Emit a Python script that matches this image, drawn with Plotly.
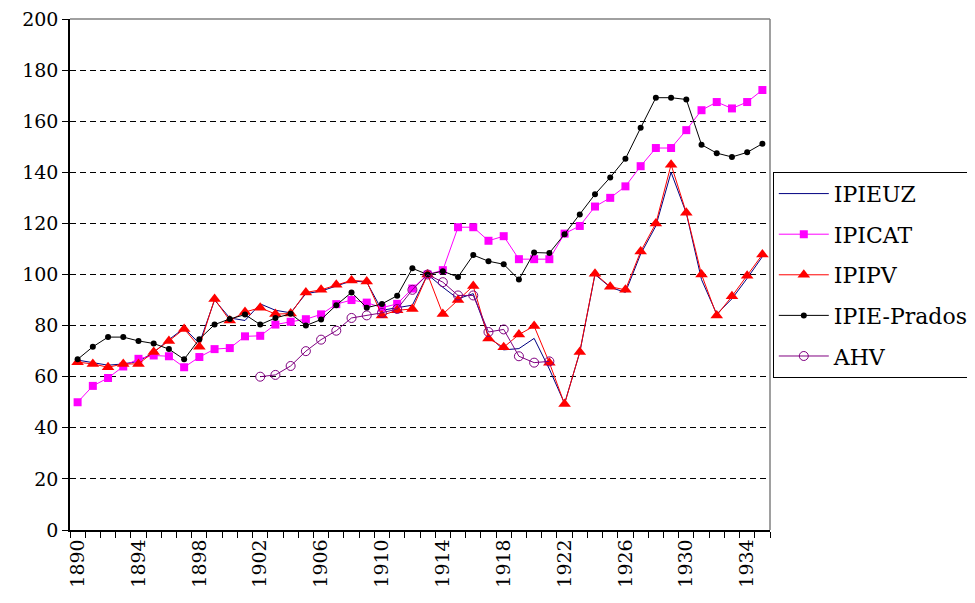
import plotly.graph_objects as go

years = list(range(1890, 1936))

ipieuz = [66.5, 65.5, 64.5, 65, 66, 69.5, 74.5, 79, 73, 90,
          83, 82, 88.5, 86, 85, 92.5, 93.5, 95.5, 97.5, 97,
          86, 87, 88, 100, 95, 90.5, 92.5, 76, 70.5, 71,
          75, 63, 49.5, 69.5, 100, 95, 93, 108, 119, 140,
          124, 98, 84.5, 90.5, 98.5, 107]

ipicat = [50, 56.4, 59.5, 64, 67, 68.3, 68, 63.7, 67.7, 70.8,
          71.2, 75.8, 76, 80.4, 81.5, 82.5, 84.4, 88.4, 90, 89,
          87, 88.5, 94.5, 100, 101.7, 118.5, 118.5, 113.2, 115, 106,
          106, 106, 116, 119, 126.6, 130, 134.5, 142.4, 149.5, 149.5,
          156.5, 164.3, 167.5, 165, 167.5, 172.2]

ipipv = [65.7, 65, 63.7, 65, 65, 69.7, 74, 78.7, 71.7, 90.4,
         82, 85.3, 87, 84.5, 84.7, 93, 94, 96, 97.7, 97.3,
         84, 86, 86.5, 100, 84.5, 90, 95.5, 75, 71.5, 76.5,
         79.8, 65.5, 49.3, 69.7, 100.3, 95.2, 94, 109, 120, 143,
         124.2, 100, 84, 91.5, 99.5, 107.8]

ipie_prados = [66.8, 71.7, 75.5, 75.5, 74, 73, 70.8, 66.8, 74.7, 80.4,
               82.6, 84.3, 80.4, 83, 84.6, 80, 82.4, 88, 93, 87,
               88.5, 91.7, 102.4, 100, 101.3, 99, 107.6, 105.2, 104, 98,
               108.6, 108.4, 115.8, 123.5, 131.4, 138, 145.3, 157.4, 169.2, 169.2,
               168.5, 150.8, 147.5, 146, 147.8, 151.2]

ahv_years = list(range(1902, 1922))
ahv = [60, 60.7, 64.2, 70, 74.5, 78, 83, 84, 85, 86.5,
       94, 100, 97, 91.8, 91.8, 77.5, 78.5, 68, 65.5, 66]

x_ticks = list(range(1890, 1935, 4))
y_ticks = list(range(0, 201, 20))

serif = '"DejaVu Serif"'

fig = go.Figure()

fig.add_trace(go.Scatter(
    x=years, y=ipieuz, name='IPIEUZ', mode='lines',
    line=dict(color='#000080', width=1), legendgroup='a'
))
fig.add_trace(go.Scatter(
    x=years, y=ipicat, name='IPICAT', mode='lines+markers',
    line=dict(color='#FF00FF', width=1),
    marker=dict(symbol='square', size=8, color='#FF00FF'), legendgroup='b'
))
fig.add_trace(go.Scatter(
    x=years, y=ipipv, name='IPIPV', mode='lines+markers',
    line=dict(color='#FF0000', width=1),
    marker=dict(symbol='triangle-up', size=11, color='#FF0000'), legendgroup='c'
))
fig.add_trace(go.Scatter(
    x=years, y=ipie_prados, name='IPIE-Prados', mode='lines+markers',
    line=dict(color='black', width=1),
    marker=dict(symbol='circle', size=6, color='black'), legendgroup='d'
))
fig.add_trace(go.Scatter(
    x=ahv_years, y=ahv, name='AHV', mode='lines+markers',
    line=dict(color='#800080', width=1),
    marker=dict(symbol='circle-open', size=9, color='#800080', line=dict(width=1)),
    legendgroup='e'
))

# grey frame on top and right of the plot area
fig.add_shape(type='line', xref='paper', yref='paper', x0=0, x1=1, y0=1, y1=1,
              line=dict(color='#808080', width=1.5))
fig.add_shape(type='line', xref='paper', yref='paper', x0=1, x1=1, y0=0, y1=1,
              line=dict(color='#808080', width=1.5))

# the page body adds 8px, so the margins are shifted by that amount
fig.update_layout(
    width=975,
    height=603,
    margin=dict(l=62, r=213, t=11, b=81, autoexpand=False),
    plot_bgcolor='white',
    paper_bgcolor='white',
    font=dict(family=serif, color='black', size=19),
    showlegend=True,
    legend=dict(
        x=1.004, xanchor='left', y=0.701, yanchor='top',
        bordercolor='black', borderwidth=1, bgcolor='white',
        font=dict(family=serif, size=22, color='black'),
        traceorder='grouped', tracegroupgap=9, itemwidth=50
    ),
    xaxis=dict(
        range=[1889.5, 1935.5],
        tickvals=x_ticks,
        ticktext=[str(v) for v in x_ticks],
        tickangle=-90,
        ticks='',
        ticklabeloverflow='allow',
        showgrid=False,
        zeroline=False,
        automargin=False,
        showline=True, linecolor='black', linewidth=1.5,
        tickfont=dict(family=serif, size=19),
        minor=dict(tick0=1889.5, dtick=1, ticks='outside', ticklen=6,
                   tickcolor='black', showgrid=False)
    ),
    yaxis=dict(
        range=[0, 200],
        tickvals=y_ticks,
        ticks='outside', ticklen=6, tickcolor='black',
        ticklabeloverflow='allow',
        showgrid=True, gridcolor='black', gridwidth=1, griddash='6px,4px',
        zeroline=False,
        automargin=False,
        showline=True, linecolor='black', linewidth=1.5,
        tickfont=dict(family=serif, size=19)
    )
)

fig.write_html('out.html')
